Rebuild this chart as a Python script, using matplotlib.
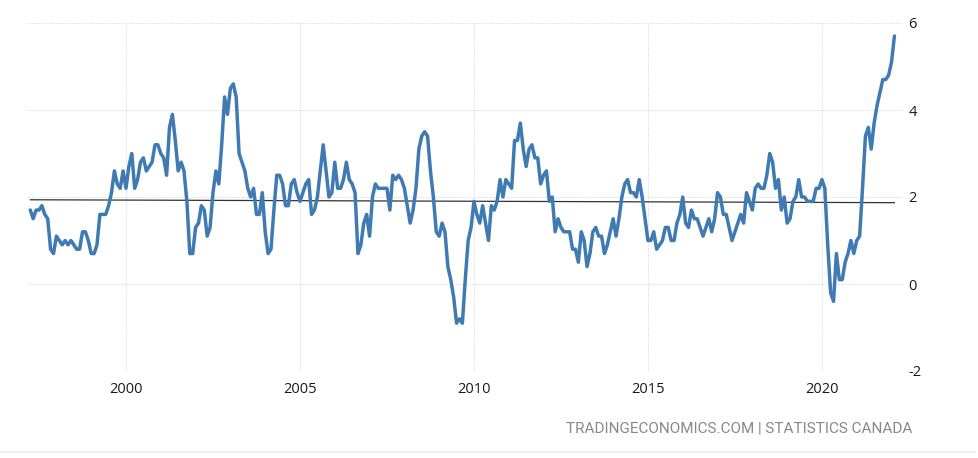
import numpy as np
import matplotlib
matplotlib.use("Agg")
import matplotlib.pyplot as plt

plt.rcParams["axes.unicode_minus"] = False

# Canada inflation rate, monthly, from April 1997 to February 2022
start_year = 1997
start_month = 4
inflation = [
    1.7, 1.5, 1.7, 1.7, 1.8, 1.6, 1.5, 0.8, 0.7,                      # 1997
    1.1, 1.0, 0.9, 1.0, 0.9, 1.0, 0.9, 0.8, 0.8, 1.2, 1.2, 1.0,       # 1998
    0.7, 0.7, 0.9, 1.6, 1.6, 1.6, 1.8, 2.1, 2.6, 2.3, 2.2, 2.6,       # 1999
    2.2, 2.7, 3.0, 2.2, 2.4, 2.8, 2.9, 2.6, 2.7, 2.8, 3.2, 3.2,       # 2000
    3.0, 2.9, 2.5, 3.6, 3.9, 3.3, 2.6, 2.8, 2.6, 1.9, 0.7, 0.7,       # 2001
    1.3, 1.4, 1.8, 1.7, 1.1, 1.3, 2.1, 2.6, 2.3, 3.2, 4.3, 3.9,       # 2002
    4.5, 4.6, 4.3, 3.0, 2.8, 2.6, 2.2, 2.0, 2.2, 1.6, 1.6, 2.1,       # 2003
    1.2, 0.7, 0.8, 1.7, 2.5, 2.5, 2.3, 1.8, 1.8, 2.3, 2.4, 2.1,       # 2004
    1.9, 2.1, 2.3, 2.4, 1.6, 1.7, 2.0, 2.6, 3.2, 2.6, 2.0, 2.1,       # 2005
    2.8, 2.2, 2.2, 2.4, 2.8, 2.4, 2.3, 2.1, 0.7, 0.9, 1.4, 1.6,       # 2006
    1.1, 2.0, 2.3, 2.2, 2.2, 2.2, 2.2, 1.7, 2.5, 2.4, 2.5, 2.4,       # 2007
    2.2, 1.8, 1.4, 1.7, 2.2, 3.1, 3.4, 3.5, 3.4, 2.6, 2.0, 1.2,       # 2008
    1.1, 1.4, 1.2, 0.4, 0.1, -0.3, -0.9, -0.8, -0.9, 0.1, 1.0, 1.3,   # 2009
    1.9, 1.6, 1.4, 1.8, 1.4, 1.0, 1.8, 1.7, 1.9, 2.4, 2.0, 2.4,       # 2010
    2.3, 2.2, 3.3, 3.3, 3.7, 3.1, 2.7, 3.1, 3.2, 2.9, 2.9, 2.3,       # 2011
    2.5, 2.6, 1.9, 2.0, 1.2, 1.5, 1.3, 1.2, 1.2, 1.2, 0.8, 0.8,       # 2012
    0.5, 1.2, 1.0, 0.4, 0.7, 1.2, 1.3, 1.1, 1.1, 0.7, 0.9, 1.2,       # 2013
    1.5, 1.1, 1.5, 2.0, 2.3, 2.4, 2.1, 2.1, 2.0, 2.4, 2.0, 1.5,       # 2014
    1.0, 1.0, 1.2, 0.8, 0.9, 1.0, 1.3, 1.3, 1.0, 1.0, 1.4, 1.6,       # 2015
    2.0, 1.4, 1.3, 1.7, 1.5, 1.5, 1.3, 1.1, 1.3, 1.5, 1.2, 1.5,       # 2016
    2.1, 2.0, 1.6, 1.6, 1.3, 1.0, 1.2, 1.4, 1.6, 1.4, 2.1, 1.9,       # 2017
    1.7, 2.2, 2.3, 2.2, 2.2, 2.5, 3.0, 2.8, 2.2, 2.4, 1.7, 2.0,       # 2018
    1.4, 1.5, 1.9, 2.0, 2.4, 2.0, 2.0, 1.9, 1.9, 1.9, 2.2, 2.2,       # 2019
    2.4, 2.2, 0.9, -0.2, -0.4, 0.7, 0.1, 0.1, 0.5, 0.7, 1.0, 0.7,     # 2020
    1.0, 1.1, 2.2, 3.4, 3.6, 3.1, 3.7, 4.1, 4.4, 4.7, 4.7, 4.8,       # 2021
    5.1, 5.7,                                                         # 2022
]
year_ticks = [2000, 2005, 2010, 2015, 2020]
y_ticks = [-2, 0, 2, 4, 6]
source = "TRADINGECONOMICS.COM | STATISTICS CANADA"

values = np.array(inflation)
t = start_year + (start_month - 1 + np.arange(len(values))) / 12.0

fig = plt.figure(figsize=(9.79, 4.58), dpi=100)
ax = fig.add_axes([27 / 979, 87 / 458, 876 / 979, 348 / 458])

ax.plot(t, values, color="#3f7bb2", linewidth=2.5, solid_joinstyle="round",
        solid_capstyle="round", zorder=3)

# ligne de tendance
coef = np.polyfit(t, values, 1)
ax.plot(t[[0, -1]], np.polyval(coef, t[[0, -1]]), color="#333333", linewidth=0.9, zorder=2)

ax.set_xlim(1997.155, 2022.33)
ax.set_ylim(-2, 6)
ax.set_xticks(year_ticks)
ax.set_yticks(y_ticks)
ax.yaxis.tick_right()
ax.tick_params(length=0, labelsize=10.5, colors="#1a1a1a", pad=4)
ax.tick_params(axis="x", pad=8)
for lab in ax.get_xticklabels() + ax.get_yticklabels():
    lab.set_family(["Open Sans", "DejaVu Sans"])
ax.grid(True, color="#dddddd", linestyle=(0, (1, 1)), linewidth=0.8)
for s in ax.spines.values():
    s.set_visible(False)

fig.text(912 / 979, 1 - 428 / 458, source, ha="right", va="center",
         fontsize=11, color="#888888", family=["Roboto", "DejaVu Sans"])
fig.add_artist(plt.Line2D([0, 975 / 979], [1 - 452 / 458] * 2, color="#f0f0f0", linewidth=1.5))

fig.savefig("out.png", dpi=100)
